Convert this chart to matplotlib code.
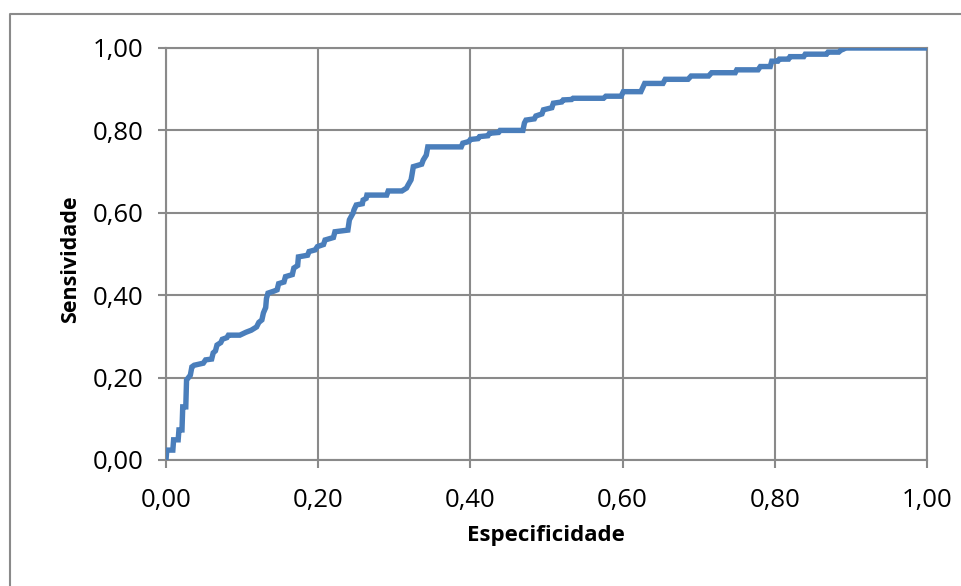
import matplotlib
matplotlib.use("Agg")
import matplotlib.pyplot as plt
from matplotlib.lines import Line2D
from matplotlib.ticker import FuncFormatter

# curva ROC (especificidade, sensividade)
especificidade = [0.0, 0.001, 0.009, 0.010, 0.016, 0.017, 0.021, 0.022, 0.026, 0.027,
                  0.032, 0.034, 0.037, 0.049, 0.052, 0.060, 0.062, 0.065, 0.067, 0.072,
                  0.074, 0.080, 0.082, 0.097, 0.105, 0.112, 0.119, 0.122, 0.126, 0.128,
                  0.131, 0.132, 0.134, 0.142, 0.146, 0.148, 0.155, 0.157, 0.166, 0.168,
                  0.173, 0.174, 0.186, 0.188, 0.196, 0.199, 0.207, 0.209, 0.220, 0.222,
                  0.239, 0.241, 0.246, 0.247, 0.250, 0.258, 0.259, 0.263, 0.264, 0.290,
                  0.292, 0.310, 0.316, 0.318, 0.322, 0.323, 0.325, 0.336, 0.338, 0.342,
                  0.344, 0.388, 0.390, 0.398, 0.400, 0.410, 0.412, 0.423, 0.425, 0.437,
                  0.439, 0.469, 0.471, 0.473, 0.484, 0.486, 0.494, 0.496, 0.507, 0.509,
                  0.520, 0.522, 0.533, 0.535, 0.575, 0.578, 0.598, 0.601, 0.624, 0.629,
                  0.653, 0.656, 0.686, 0.690, 0.713, 0.717, 0.748, 0.750, 0.778, 0.781,
                  0.794, 0.796, 0.804, 0.806, 0.818, 0.820, 0.838, 0.840, 0.868, 0.870,
                  0.884, 0.887, 0.890, 0.893, 1.000]
sensividade = [0.0, 0.024, 0.024, 0.049, 0.049, 0.073, 0.073, 0.129, 0.129, 0.194,
               0.206, 0.226, 0.230, 0.235, 0.243, 0.245, 0.260, 0.265, 0.279, 0.285,
               0.293, 0.297, 0.303, 0.303, 0.310, 0.315, 0.323, 0.334, 0.340, 0.357,
               0.370, 0.392, 0.405, 0.410, 0.413, 0.428, 0.432, 0.445, 0.450, 0.466,
               0.472, 0.493, 0.497, 0.506, 0.510, 0.518, 0.523, 0.534, 0.540, 0.554,
               0.558, 0.583, 0.600, 0.607, 0.619, 0.622, 0.631, 0.635, 0.643, 0.643,
               0.653, 0.653, 0.660, 0.667, 0.680, 0.690, 0.712, 0.718, 0.728, 0.740,
               0.760, 0.760, 0.769, 0.773, 0.778, 0.780, 0.785, 0.787, 0.793, 0.795,
               0.800, 0.800, 0.818, 0.825, 0.828, 0.835, 0.840, 0.850, 0.855, 0.866,
               0.869, 0.874, 0.875, 0.878, 0.878, 0.883, 0.883, 0.894, 0.894, 0.914,
               0.914, 0.924, 0.924, 0.932, 0.932, 0.940, 0.940, 0.947, 0.947, 0.955,
               0.955, 0.968, 0.968, 0.973, 0.973, 0.979, 0.979, 0.985, 0.985, 0.990,
               0.990, 0.995, 0.997, 1.000, 1.000]
ticks = [0.0, 0.2, 0.4, 0.6, 0.8, 1.0]

grid_color = "#8a8a8a"
plt.rcParams['font.family'] = ['Open Sans', 'DejaVu Sans']

fig = plt.figure(figsize=(9.62, 5.86), dpi=100)
ax = fig.add_axes([166 / 962, 1 - 460 / 586, 761 / 962, 412 / 586])

ax.plot(especificidade, sensividade, color="#4a7ebb", linewidth=3.9,
        solid_joinstyle="miter", zorder=3)

ax.set_xlim(0, 1)
ax.set_ylim(0, 1)
ax.set_xticks(ticks)
ax.set_yticks(ticks)
fmt = FuncFormatter(lambda v, p: "{:.2f}".format(v).replace(".", ","))
ax.xaxis.set_major_formatter(fmt)
ax.yaxis.set_major_formatter(fmt)
ax.tick_params(axis="both", direction="out", length=6, width=1.5, color=grid_color,
               labelsize=18.5, labelcolor="black")
ax.tick_params(axis="x", pad=14)
ax.tick_params(axis="y", pad=10)
ax.grid(True, color=grid_color, linewidth=1.5)
ax.set_axisbelow(True)
for s in ax.spines.values():
    s.set_color(grid_color)
    s.set_linewidth(1.5)

fig.text(546 / 962, 1 - 536 / 586, "Especificidade", ha="center", va="center",
         fontsize=16, fontweight="bold")
fig.text(71 / 962, 1 - 259 / 586, "Sensividade", ha="center", va="center",
         rotation=90, fontsize=15.5, fontweight="bold")

# moldura da area do grafico
border_x = 10 / 962
border_y = 1 - 14 / 586
fig.add_artist(Line2D([border_x, border_x, 1], [0, border_y, border_y],
                      transform=fig.transFigure, color=grid_color, linewidth=1.5))

fig.savefig("out.png", dpi=100)
